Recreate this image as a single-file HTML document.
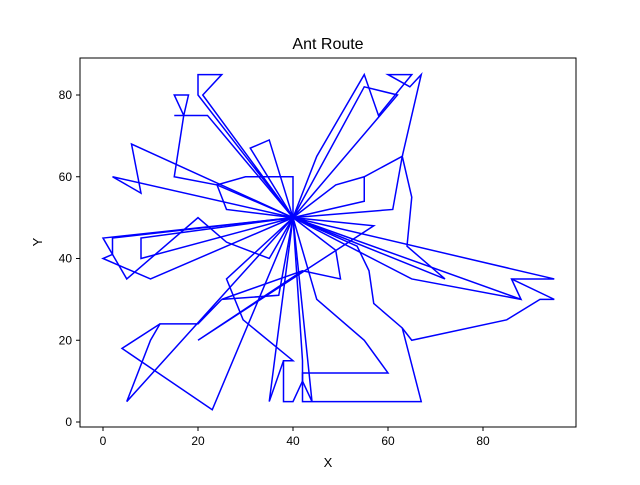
<!DOCTYPE html>
<html><head><meta charset="utf-8"><style>
body{margin:0;background:#fff;font-family:"Liberation Sans",sans-serif}
</style></head><body>
<svg id="chart" width="640" height="480" xmlns="http://www.w3.org/2000/svg">
<rect width="640" height="480" fill="#fff"/>
<text x="328" y="49" font-size="16" text-anchor="middle" font-family="Liberation Sans, sans-serif">Ant Route</text>
<text x="328" y="467" font-size="13" text-anchor="middle" font-family="Liberation Sans, sans-serif">X</text>
<text x="42" y="242" font-size="13" text-anchor="middle" transform="rotate(-90 42 242)" font-family="Liberation Sans, sans-serif">Y</text>
<g id="plot"></g>
<rect x="80" y="58" width="496" height="369" fill="none" stroke="#000" stroke-width="1"/>
</svg>
<script>
const xTicks=[0,20,40,80-20,80];
const yTicks=[0,20,40,60,80];
const depot=[40,50];
const routes=[
[[40,50],[45,65],[55,85],[58,75],[65,85],[60,85],[64.6,82],[67,85],[63,65],[65,55],[64,43],[72,35],[40,50]],
[[40,50],[55,82],[62,80],[40,50]],
[[40,50],[61,52],[63,65],[55,60],[49,58],[40,50]],
[[40,50],[55,54],[55,60]],
[[40,50],[95,35],[86,35],[88,30],[40,50]],
[[40,50],[53.5,43],[56,37],[57,29],[63,23],[65,20],[85,25],[92,30],[95,30],[86,35]],
[[40,50],[65,35],[88,30]],
[[40,50],[57,48],[20,20],[42,37]],
[[40,50],[49,42],[50,35],[42,37],[25,30],[37,31],[40,50]],
[[40,50],[26,35],[29.5,25],[40,15],[38,15],[38,5],[40,5],[42,10],[42,15],[40,50]],
[[40,50],[35,5],[38,15]],
[[40,50],[5,5],[10,20],[12,24],[20,24],[25,30]],
[[40,50],[23,3],[4,18],[12,24]],
[[40,50],[45,30],[55,20],[60,12],[42,12],[42,5],[67,5],[63,23]],
[[40,50],[44,5],[42,10]],
[[40,50],[0,45],[5,35],[20,50],[26,44],[35,40],[40,50]],
[[40,50],[2,45],[2,41],[0,40],[10,35],[40,50]],
[[40,50],[8,45],[8,40],[40,50]],
[[40,50],[20,80],[20,85],[25,85],[21,80],[40,50]],
[[40,50],[22,75],[15,75],[17,75],[15,80],[18,80],[17,75],[15,60],[24,58],[40,50]],
[[40,50],[40,60],[30,60],[24,58],[26,52],[40,50]],
[[40,50],[6,68],[8,56],[2,60],[40,50]],
[[40,50],[31,67],[35,69],[40,50]]
];
const NS="http://www.w3.org/2000/svg";
const sx=v=>103+v*4.75;
const sy=v=>422-v*4.0875;
const svg=document.getElementById('chart');
const plot=document.getElementById('plot');
xTicks.forEach(t=>{
 const l=document.createElementNS(NS,'line');
 
 
 l.setAttribute('x1',sx(t));l.setAttribute('x2',sx(t));l.setAttribute('y1',427);l.setAttribute('y2',431);l.setAttribute('stroke','#000');
 svg.appendChild(l);
 const tx=document.createElementNS(NS,'text');
 
 
 tx.setAttribute('x',sx(t));tx.setAttribute('y',445);tx.setAttribute('font-size','12');tx.setAttribute('text-anchor','middle');
 tx.textContent=t;svg.appendChild(tx);
});
yTicks.forEach(t=>{
 const l=document.createElementNS(NS,'line');
 
 
 l.setAttribute('x1',76);l.setAttribute('x2',80);l.setAttribute('y1',sy(t));l.setAttribute('y2',sy(t));l.setAttribute('stroke','#000');
 svg.appendChild(l);
 const tx=document.createElementNS(NS,'text');
 
 
 tx.setAttribute('x',72);tx.setAttribute('y',sy(t)+4);tx.setAttribute('font-size','12');tx.setAttribute('text-anchor','end');
 tx.textContent=t;svg.appendChild(tx);
});
routes.forEach(r=>{
 const p=document.createElementNS(NS,'polyline');
 
 
 p.setAttribute('points',r.map(q=>sx(q[0])+','+sy(q[1])).join(' '));
 p.setAttribute('fill','none');p.setAttribute('stroke','#0000ff');p.setAttribute('stroke-width','1.5');p.setAttribute('stroke-linejoin','miter');
 plot.appendChild(p);
});
</script>
</body></html>
